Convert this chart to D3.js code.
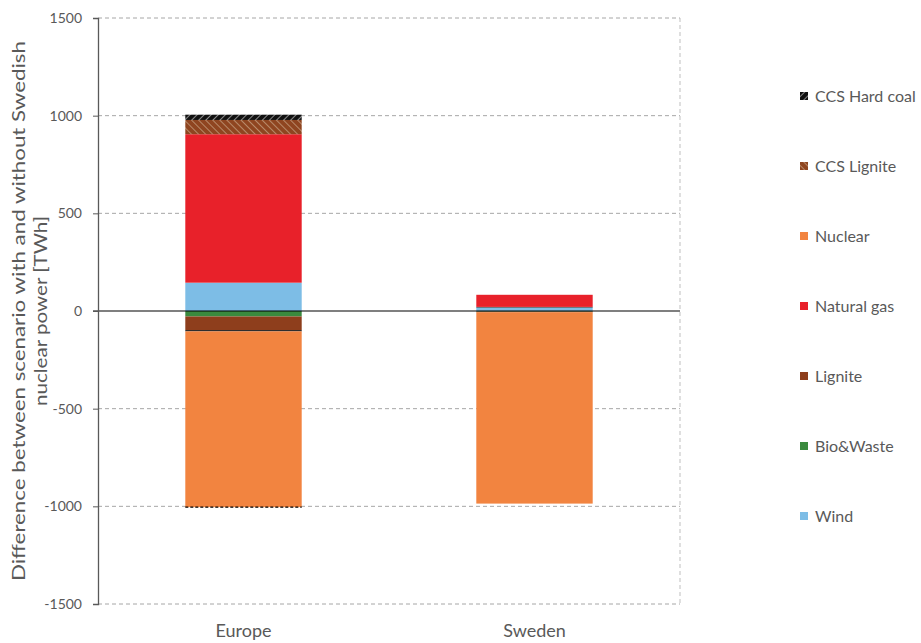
<!DOCTYPE html>
<html>
<head>
<meta charset="utf-8">
<script src="https://cdn.jsdelivr.net/npm/d3@7"></script>
<style>
  html, body { margin: 0; padding: 0; background: #fff; }
  svg { display: block; font-family: Lato, "Open Sans", "DejaVu Sans", sans-serif; }
</style>
</head>
<body>
<svg id="chart" width="921" height="643"></svg>
<script>
// ---- data ----
const categories = ["Europe", "Sweden"];
// stacking order (first = nearest zero)
const seriesNames = ["Wind", "Bio&Waste", "Lignite", "Hard coal", "Natural gas", "Nuclear", "CCS Lignite", "CCS Hard coal"];
const wind        = [145, 18];
const bioWaste    = [-28, -3];
const lignite     = [-70, -3];
const hardCoal    = [-6, 3];
const naturalGas  = [760, 62];
const nuclear     = [-900, -980];
const ccsLignite  = [73, 0];
const ccsHardCoal = [27, 0];
const legendNames = ["CCS Hard coal", "CCS Lignite", "Nuclear", "Natural gas", "Lignite", "Bio&Waste", "Wind"];
const yTicks = [-1500, -1000, -500, 0, 500, 1000, 1500];
const yTitle1 = "Difference between scenario with and without Swedish";
const yTitle2 = "nuclear power  [TWh]";

const seriesValues = {
  "Wind": wind, "Bio&Waste": bioWaste, "Lignite": lignite, "Hard coal": hardCoal,
  "Natural gas": naturalGas, "Nuclear": nuclear, "CCS Lignite": ccsLignite, "CCS Hard coal": ccsHardCoal
};

const svg = d3.select("#chart");
const defs = svg.append("defs");

// hatch patterns
function hatch(id, bg, fg, dir, size, sw) {
  const p = defs.append("pattern").attr("id", id).attr("patternUnits", "userSpaceOnUse")
    .attr("width", size).attr("height", size)
    .attr("patternTransform", `rotate(${dir})`);
  p.append("rect").attr("width", size).attr("height", size).attr("fill", bg);
  p.append("line").attr("x1", 0).attr("y1", 0).attr("x2", 0).attr("y2", size)
    .attr("stroke", fg).attr("stroke-width", sw);
}
hatch("hatchHC", "#111", "#8a8a8a", 45, 5, 2);
hatch("hatchCL", "#8f4520", "#b88a6a", -45, 5, 2);

const colors = {
  "Wind": "#7dbde6",
  "Bio&Waste": "#3a8a3e",
  "Lignite": "#8e3e1c",
  "Hard coal": "#111111",
  "Natural gas": "#e8212a",
  "Nuclear": "#f28440",
  "CCS Lignite": "url(#hatchCL)",
  "CCS Hard coal": "url(#hatchHC)"
};

const plot = { left: 98, right: 680, top: 18, bottom: 604 };

const x = d3.scaleBand().domain(categories).range([plot.left, plot.right]).paddingInner(0.6).paddingOuter(0.3);
const y = d3.scaleLinear().domain([-1500, 1500]).range([plot.bottom, plot.top]);

// grid
const grid = svg.append("g");
grid.selectAll("line.g").data(yTicks.filter(d => d !== 0)).join("line")
  .attr("x1", plot.left).attr("x2", plot.right)
  .attr("y1", d => y(d)).attr("y2", d => y(d))
  .attr("stroke", "#a6a6a6").attr("stroke-width", 1).attr("stroke-dasharray", "4,3");
grid.append("line").attr("x1", plot.right).attr("x2", plot.right)
  .attr("y1", plot.top).attr("y2", plot.bottom)
  .attr("stroke", "#bfbfbf").attr("stroke-width", 1).attr("stroke-dasharray", "4,3");

// stacked bars (diverging)
const table = categories.map((c, i) => {
  const o = { category: c };
  seriesNames.forEach(s => o[s] = seriesValues[s][i]);
  return o;
});
const stack = d3.stack().keys(seriesNames).offset(d3.stackOffsetDiverging);
const stacked = stack(table);

const bars = svg.append("g");
stacked.forEach(layer => {
  bars.selectAll(null).data(layer.filter(d => d[1] !== d[0])).join("rect")
    .attr("x", d => x(d.data.category))
    .attr("width", x.bandwidth())
    .attr("y", d => y(Math.max(d[0], d[1])))
    .attr("height", d => Math.abs(y(d[0]) - y(d[1])))
    .attr("fill", colors[layer.key]);
});

// dashed outline at bottom of Europe nuclear segment
const nucLayer = stacked.find(l => l.key === "Nuclear");
bars.selectAll(null).data(nucLayer.filter(d => d.data.category === "Europe")).join("line")
  .attr("x1", d => x(d.data.category)).attr("x2", d => x(d.data.category) + x.bandwidth())
  .attr("y1", d => y(Math.min(d[0], d[1]))).attr("y2", d => y(Math.min(d[0], d[1])))
  .attr("stroke", "#000").attr("stroke-width", 1.2).attr("stroke-dasharray", "3,2");

// zero line
svg.append("line").attr("x1", plot.left - 5).attr("x2", plot.right)
  .attr("y1", y(0)).attr("y2", y(0)).attr("stroke", "#000").attr("stroke-width", 1.2);

// y axis
const yAxis = svg.append("g").attr("transform", `translate(${plot.left},0)`)
  .call(d3.axisLeft(y).tickValues(yTicks).tickSize(5).tickPadding(11).tickFormat(d => String(d)));
yAxis.select(".domain").attr("stroke", "#595959").attr("stroke-width", 1.3);
yAxis.selectAll(".tick line").attr("stroke", "#595959");
yAxis.selectAll(".tick text").attr("fill", "#595959").attr("font-size", 14).attr("font-family", "Lato, sans-serif");

// x labels
svg.append("g").selectAll("text").data(categories).join("text")
  .attr("x", d => x(d) + x.bandwidth() / 2)
  .attr("y", 637)
  .attr("text-anchor", "middle")
  .attr("font-size", 18)
  .attr("fill", "#595959")
  .text(d => d);

// y title
const yt = svg.append("g").attr("transform", `translate(0,${(plot.top + plot.bottom) / 2}) rotate(-90)`);
yt.append("text").attr("x", 0).attr("y", 25).attr("text-anchor", "middle")
  .attr("font-size", 17).attr("fill", "#595959")
  .attr("textLength", 540).attr("lengthAdjust", "spacingAndGlyphs")
  .text(yTitle1);
yt.append("text").attr("x", 0).attr("y", 47).attr("text-anchor", "middle")
  .attr("font-size", 17).attr("fill", "#595959")
  .attr("textLength", 190).attr("lengthAdjust", "spacingAndGlyphs")
  .text(yTitle2);

// legend
const legY = d3.scalePoint().domain(legendNames).range([96, 516]);
const leg = svg.append("g").selectAll("g").data(legendNames).join("g")
  .attr("transform", d => `translate(800,${legY(d)})`);
leg.append("rect").attr("x", 0).attr("y", -4).attr("width", 8).attr("height", 8)
  .attr("fill", d => colors[d]);
leg.append("text").attr("x", 15).attr("y", 0).attr("dy", "0.35em")
  .attr("font-size", 16).attr("fill", "#595959")
  .text(d => d);
</script>
</body>
</html>
